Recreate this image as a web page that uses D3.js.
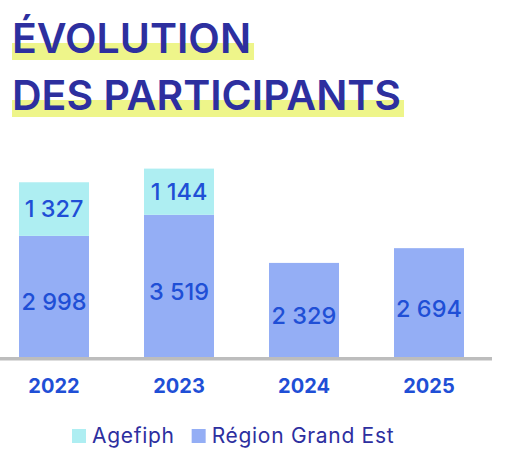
<!DOCTYPE html>
<html>
<head>
<meta charset="utf-8">
<script src="https://cdn.jsdelivr.net/npm/d3@7"></script>
<style>
  html, body { margin: 0; padding: 0; background: #fff; }
  svg { display: block; font-family: Inter, "Noto Sans", sans-serif; }
</style>
</head>
<body>
<svg></svg>
<script>
// ====== Données ====== //
const annees = ["2022", "2023", "2024", "2025"];
const region = [2998, 3519, 2329, 2694];
const agefiph = [1327, 1144, null, null];
const series = ["Agefiph", "Région Grand Est"];
const titre = ["ÉVOLUTION", "DES PARTICIPANTS"];

const width = 505;
const height = 470;

const couleurs = { "Agefiph": "#aeeef2", "Région Grand Est": "#94aef5" };
const bleuTitre = "#2d2f9f";
const bleuValeur = "#1f4fd6";

const svg = d3.select("svg")
  .attr("width", width)
  .attr("height", height);

// titre avec surlignage jaune
const lignesTitre = [{ t: titre[0], base: 53 }, { t: titre[1], base: 110 }];
lignesTitre.forEach(l => {
  const txt = svg.append("text")
    .attr("x", 12)
    .attr("y", l.base)
    .attr("font-size", 41)
    .attr("font-weight", 600)
    .attr("fill", bleuTitre)
    .text(l.t);
  const w = txt.node().getComputedTextLength();
  svg.insert("rect", "text")
    .attr("x", 12)
    .attr("y", l.base - 10)
    .attr("width", w + 3)
    .attr("height", 17)
    .attr("fill", "#eef58a");
});

// échelles
const x = d3.scaleBand()
  .domain(annees)
  .range([19, 464])
  .paddingInner(0.44)
  .paddingOuter(0);

const y = d3.scaleLinear()
  .domain([0, 4500])
  .range([357, 357 - 4500 * 0.0404]);

const data = annees.map((a, i) => ({ annee: a, region: region[i], agefiph: agefiph[i] }));

// barres Région Grand Est
svg.selectAll(".bar-region")
  .data(data)
  .enter().append("rect")
  .attr("x", d => x(d.annee))
  .attr("width", x.bandwidth())
  .attr("y", d => y(d.region))
  .attr("height", d => y(0) - y(d.region))
  .attr("fill", couleurs["Région Grand Est"]);

// barres Agefiph (empilées)
const avecAgefiph = data.filter(d => d.agefiph != null);
svg.selectAll(".bar-agefiph")
  .data(avecAgefiph)
  .enter().append("rect")
  .attr("x", d => x(d.annee))
  .attr("width", x.bandwidth())
  .attr("y", d => y(d.region + d.agefiph))
  .attr("height", d => y(d.region) - y(d.region + d.agefiph))
  .attr("fill", couleurs["Agefiph"]);

const fmt = v => d3.format(",")(v).replace(/,/g, " ");

// valeurs
svg.selectAll(".val-region")
  .data(data)
  .enter().append("text")
  .attr("x", d => x(d.annee) + x.bandwidth() / 2)
  .attr("y", d => (y(0) + y(d.region)) / 2 + 14)
  .attr("text-anchor", "middle")
  .attr("font-size", 23.5)
  .attr("font-weight", 500)
  .attr("fill", bleuValeur)
  .text(d => fmt(d.region));

svg.selectAll(".val-agefiph")
  .data(avecAgefiph)
  .enter().append("text")
  .attr("x", d => x(d.annee) + x.bandwidth() / 2)
  .attr("y", d => (y(d.region) + y(d.region + d.agefiph)) / 2 + 8)
  .attr("text-anchor", "middle")
  .attr("font-size", 23.5)
  .attr("font-weight", 500)
  .attr("fill", bleuValeur)
  .text(d => fmt(d.agefiph));

// ligne de base
svg.append("rect")
  .attr("x", 0)
  .attr("y", y(0))
  .attr("width", 492)
  .attr("height", 3.5)
  .attr("fill", "#bdbdbd");

// axe des années
const axe = svg.append("g")
  .attr("transform", `translate(0,${y(0)})`)
  .call(d3.axisBottom(x).tickSize(0).tickPadding(0));
axe.select(".domain").remove();
axe.selectAll("text")
  .attr("dy", 0)
  .attr("y", 36)
  .attr("font-family", "Inter, sans-serif")
  .attr("font-size", 20)
  .attr("font-weight", 700)
  .attr("fill", bleuValeur);

// légende
const legende = svg.append("g").attr("transform", "translate(72,429)");
let lx = 0;
series.forEach(s => {
  legende.append("rect")
    .attr("x", lx)
    .attr("y", 0)
    .attr("width", 14)
    .attr("height", 14)
    .attr("fill", couleurs[s]);
  const t = legende.append("text")
    .attr("x", lx + 20)
    .attr("y", 14)
    .attr("font-size", 21)
    .attr("letter-spacing", 0.7)
    .attr("fill", bleuTitre)
    .text(s);
  lx += 20 + t.node().getComputedTextLength() + 17;
});
</script>
</body>
</html>
